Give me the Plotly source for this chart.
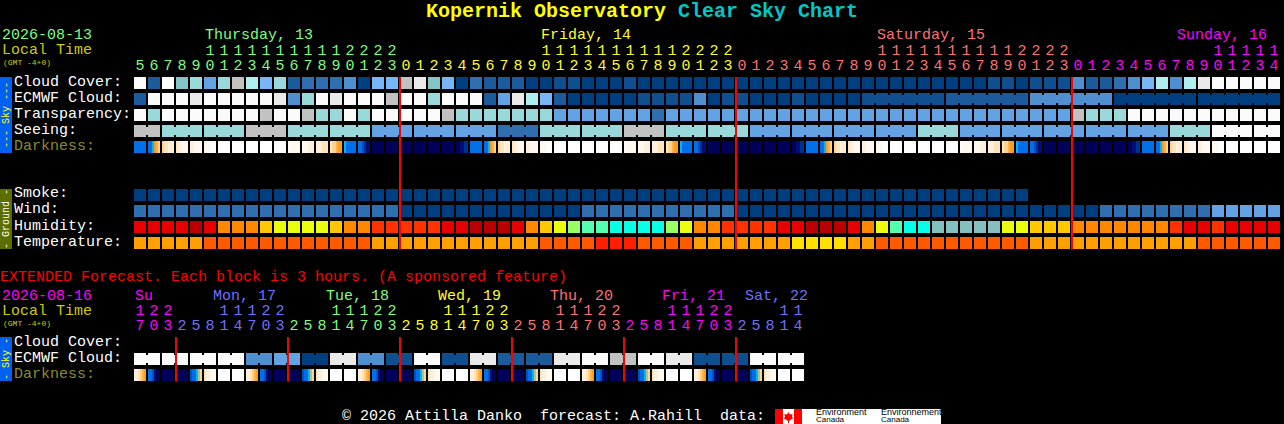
import plotly.graph_objects as go

W, H = 1284, 424
MONO = "Liberation Mono"

# %% colours
cloud_colors = ["#FBFBFB", "#EAEAEA", "#C2C2C2", "#AEEEEE", "#99D9D9", "#85C5C5", "#77B7F7",
                "#63A3E3", "#4F8FCF", "#2F6FAF", "#1B5B9B", "#0F4F8F", "#003F7F"]
humidity_colors = ["#08FFE8", "#55FFB0", "#99FF66", "#EAFF10", "#FFC800", "#FF8800", "#FF3300",
                   "#E80000", "#B80000", "#85C0C0"]
temp_colors = ["#FFE000", "#FFA000", "#FF5A00", "#FF2000"]
dark_colors = ["#FFFFFF", "#FFF9F0", "#FFF0DC", "#FFE4BC", "#FFD38F", "#FFB040", "#F5A020",
               "#10B0F0", "#0070E8", "#0050C8", "#003090", "#000F70", "#00005A", "#9CC8A0"]
GREEN, YEL, SALMON, MAG, PERI = "#7CFF7C", "#FFFF20", "#FF7070", "#FF00FF", "#7070FF"

# %% main forecast, one block per hour: Thu 5h .. Sun 14h
main_days = ["Thursday, 13", "Friday, 14", "Saturday, 15", "Sunday, 16"]
main_day_colors = [GREEN, YEL, SALMON, MAG]
main_day_blocks = [19, 24, 24, 15]
main_tens = ("     11111111112222" "          11111111112222"
             "          11111111112222" "          11111")
main_ones = ("5678901234567890123" "012345678901234567890123"
             "012345678901234567890123" "012345678901234")
main_midnights = [19, 43, 67]

cloud_cover = [0, 10, 0, 5, 4, 7, 4, 2, 3, 6, 4, 10, 9, 9, 9, 8, 12, 6, 6,
               2, 1, 5, 6, 12, 9, 10, 10, 10, 12, 12, 11, 11, 12, 12, 12, 11, 12, 12, 12, 12, 12, 12, 12,
               12, 12, 12, 12, 12, 12, 12, 12, 12, 12, 12, 12, 12, 12, 12, 12, 12, 12, 11, 11, 12, 11, 11, 11,
               8, 10, 10, 9, 8, 6, 3, 8, 3, 1, 0, 0, 0, 0, 0]
ecmwf_cloud = [10, 0, 0, 0, 1, 0, 0, 0, 0, 0, 1, 8, 4, 0, 1, 0, 0, 0, 2,
               0, 0, 4, 0, 0, 0, 10, 7, 1, 3, 6, 10, 12, 12, 12, 12, 12, 11, 11, 11, 11, 8, 12, 11,
               11, 12, 12, 12, 11, 12, 12, 12, 12, 11, 11, 11, 11, 11, 11, 10, 10, 10, 10, 10, 10, 8, 8, 8,
               8, 8, 8, 12, 12, 12, 12, 12, 12, 12, 12, 12, 12, 12, 12]
ecmwf_runs = [52, 6, 6, 6, 6, 6]  # single blocks first, then the joined ones
transparency = [0, 4, 0, 0, 0, 0, 0, 0, 0, 2, 0, 0, 2, 4, 4, 0, 4, 0, 0,
                0, 0, 0, 2, 4, 4, 4, 4, 4, 4, 4, 7, 7, 7, 7, 7, 7, 7, 9, 7, 7, 7, 7, 7,
                7, 7, 7, 7, 7, 7, 7, 7, 7, 7, 7, 7, 7, 7, 7, 7, 7, 7, 7, 7, 7, 7, 7, 7,
                2, 4, 4, 4, 0, 0, 0, 0, 0, 0, 0, 0, 0, 0, 0]
seeing = [2, 2, 4, 4, 4, 4, 4, 4, 2, 2, 2, 4, 4, 4, 4, 4, 4, 7, 7,
          7, 7, 7, 7, 7, 7, 7, 9, 9, 9, 4, 4, 4, 4, 4, 4, 2, 2, 2, 4, 4, 4, 4, 4,
          4, 7, 7, 7, 7, 7, 7, 7, 7, 7, 7, 7, 7, 4, 4, 4, 7, 7, 7, 7, 7, 7, 7, 7,
          7, 7, 7, 7, 7, 7, 7, 4, 4, 4, 0, 0, 0, 0, 0]
seeing_runs = [2, 3, 3, 3, 3, 3, 3, 3, 3, 3, 3, 3, 3, 3, 3, 3, 3, 3, 3, 3, 3, 3, 3, 3, 3, 3, 3, 2]

# darkness blocks are cut in six strips, left to right
N = [12, 12, 12, 12, 12, 12]
D = [0, 0, 0, 0, 0, 0]
S = [8, 8, 8, 8, 8, 8]
pre_dawn = [12, 12, 11, 11, 10, 10]
dawn = [8, 8, 7, 6, 5, 4]
dawn2 = [4, 3, 3, 2, 2, 2]
morn1 = [3, 2, 2, 1, 1, 1]
morn2 = [2, 2, 1, 1, 1, 1]
morn3 = [1, 1, 1, 0, 0, 0]
aft1 = [0, 1, 1, 1, 1, 1]
aft2 = [1, 1, 1, 2, 2, 2]
aft3 = [2, 2, 2, 3, 3, 3]
dusk = [3, 4, 4, 5, 6, 6]
dusk2 = [7, 8, 8, 8, 8, 8]
post_dusk = [8, 8, 9, 10, 11, 11]
darkness = [S, dawn, dawn2, morn1, morn2, morn3, D, D, D, D, D, aft1, aft2, aft3, dusk, dusk2, post_dusk, N, N,
            N, N, N, N, pre_dawn, S, dawn, dawn2, morn1, morn2, morn3, D, D, D, D, D, aft1, aft2, aft3, dusk, dusk2, post_dusk, N, N,
            N, N, N, N, pre_dawn, S, dawn, dawn2, morn1, morn2, morn3, D, D, D, D, D, aft1, aft2, aft3, dusk, dusk2, post_dusk, N, N,
            N, N, N, N, pre_dawn, S, dawn, dawn2, morn1, morn2, morn3, D, D, D, D]

smoke = [12, 12, 12, 12, 12, 12, 12, 12, 12, 12, 12, 12, 12, 12, 12, 12, 12, 12, 12,
         12, 12, 12, 12, 12, 12, 12, 12, 12, 12, 12, 12, 12, 12, 12, 12, 12, 12, 12, 12, 12, 12, 12, 12,
         12, 12, 12, 12, 12, 12, 12, 12, 12, 12, 12, 12, 12, 12, 12, 12, 12, 12, 12, 12, 12]
wind = [9, 9, 9, 9, 9, 9, 9, 9, 9, 9, 9, 9, 9, 9, 9, 9, 9, 9, 9,
        12, 12, 12, 12, 12, 12, 12, 12, 12, 12, 12, 12, 12, 9, 9, 9, 9, 9, 9, 9, 9, 9, 9, 9,
        12, 12, 12, 12, 12, 12, 12, 12, 12, 12, 12, 12, 12, 12, 12, 12, 12, 12, 12, 12, 12, 12, 12, 12,
        12, 12, 9, 9, 9, 9, 9, 9, 9, 9, 7, 7, 7, 7, 7]
humidity = [7, 7, 7, 7, 8, 7, 5, 5, 5, 4, 3, 3, 3, 3, 4, 5, 5, 6, 6,
            6, 6, 6, 7, 7, 8, 8, 8, 7, 5, 4, 3, 2, 1, 1, 0, 0, 0, 0, 2, 3, 5, 5, 6,
            6, 6, 6, 7, 7, 8, 8, 8, 7, 5, 3, 1, 0, 0, 9, 9, 9, 9, 9, 3, 3, 4, 4, 4,
            5, 5, 5, 5, 5, 5, 5, 6, 7, 7, 6, 7, 7, 7, 7]
temperature = [1, 1, 1, 1, 1, 2, 2, 2, 2, 2, 2, 2, 2, 2, 2, 2, 2, 1, 1,
               1, 1, 1, 1, 1, 1, 1, 1, 1, 1, 2, 2, 2, 2, 3, 3, 3, 2, 2, 2, 2, 1, 1, 1,
               1, 1, 1, 1, 0, 0, 0, 0, 1, 1, 2, 2, 2, 2, 2, 2, 2, 2, 2, 2, 2, 1, 1, 1,
               1, 1, 1, 1, 1, 1, 1, 1, 1, 2, 2, 2, 2, 2, 2]

# %% extended forecast, one block per 3 hours
ext_days = ["Su", "Mon, 17", "Tue, 18", "Wed, 19", "Thu, 20", "Fri, 21", "Sat, 22"]
ext_day_colors = [MAG, PERI, GREEN, YEL, SALMON, MAG, PERI]
ext_day_blocks = [3, 8, 8, 8, 8, 8, 5]
ext_tens = "122" "   11122" "   11122" "   11122" "   11122" "   11122" "   11"
ext_ones = "703" "25814703" "25814703" "25814703" "25814703" "25814703" "25814"
ext_midnights = [3, 11, 19, 27, 35, 43]
ext_ecmwf = [0, 0, 0, 0, 0, 0, 0, 0, 8, 8, 7, 7, 12, 12, 1, 1, 8, 8, 11, 11, 0, 0, 11, 11,
             1, 1, 10, 10, 10, 10, 1, 1, 0, 0, 2, 2, 0, 0, 1, 1, 11, 11, 11, 11, 0, 0, 0, 0]
ext_runs = [2, 2, 2, 2, 2, 2, 2, 2, 2, 2, 2, 2, 2, 2, 2, 2, 2, 2, 2, 2, 2, 2, 2, 2]
e3 = [2, 2, 3, 4, 5, 6]
d3 = [8, 8, 9, 11, 12, 12]
m3 = [9, 8, 8, 7, 13, 4]
c3 = [3, 2, 2, 1, 1, 1]
ext_darkness = [e3, d3, N, N, m3, c3, D, D, e3, d3, N, N, m3, c3, D, D, e3, d3, N, N, m3, c3, D, D,
                e3, d3, N, N, m3, c3, D, D, e3, d3, N, N, m3, c3, D, D, e3, d3, N, N, m3, c3, D, D]

# %% layout helpers, block i sits at 140 + 14 * i pixels
PITCH = 14
x_range = [-140 / PITCH, (W - 140) / PITCH]


def px(x):
    return x / W


def py(y):
    return 1 - y / H


def stepped(colors):
    n = len(colors)
    scale = []
    for k, c in enumerate(colors):
        scale += [[k / n, c], [(k + 1) / n, c]]
    return scale


fig = go.Figure()


def block_row(row, values, colors, yaxis):
    fig.add_trace(go.Heatmap(
        x=list(range(len(values))), y=[row], z=[values],
        colorscale=stepped(colors), zmin=-0.5, zmax=len(colors) - 0.5,
        xgap=2, ygap=4, showscale=False, hoverinfo="skip", yaxis=yaxis,
    ))


def joined(row, values, runs, colors, yaxis):
    # the narrow bridges between blocks of the same forecast period
    start = 0
    for run in runs:
        if 1 < run <= 6:
            fig.add_trace(go.Scatter(
                x=[start, start + run - 1], y=[row, row], mode="lines",
                line=dict(color=colors[values[start]], width=8),
                hoverinfo="skip", showlegend=False, yaxis=yaxis,
            ))
        start += run


def darkness_row(row, strips, yaxis):
    edges, z = [], []
    for i, block in enumerate(strips):
        for k, v in enumerate(block):
            edges.append(i + (-6 + 2 * k) / PITCH)
            z.append(v)
        edges.append(i + 6 / PITCH)
        z.append(None)
    edges.append(len(strips) - 1 + 8 / PITCH)
    fig.add_trace(go.Heatmap(
        x=edges, y=[row], z=[z],
        colorscale=stepped(dark_colors), zmin=-0.5, zmax=len(dark_colors) - 0.5,
        ygap=4, showscale=False, hoverinfo="skip", yaxis=yaxis,
    ))


def digits(tens, ones, day_colors, day_blocks, yaxis):
    colors = []
    for c, n in zip(day_colors, day_blocks):
        colors += [c] * n
    for row, chars in ((0, tens), (1, ones)):
        fig.add_trace(go.Scatter(
            x=list(range(len(chars))), y=[row] * len(chars), text=list(chars), mode="text",
            textposition="middle center", textfont=dict(family=MONO, size=15, color=colors),
            hoverinfo="skip", showlegend=False, yaxis=yaxis, cliponaxis=False,
        ))


def label(x, y, text, color="#FFFFFF", size=15, family=MONO, **kw):
    # annotations sit about a pixel up and right of the spot asked for
    fig.add_annotation(xref="paper", yref="paper", x=px(x - 1), y=py(y + 1), text=text, showarrow=False,
                       xanchor=kw.pop("xanchor", "left"), yanchor="middle", borderpad=0,
                       font=dict(family=family, size=size, color=color), **kw)


def rect(x0, y0, x1, y1, color):
    fig.add_shape(type="rect", xref="paper", yref="paper", x0=px(x0), x1=px(x1), y0=py(y0), y1=py(y1),
                  fillcolor=color, line_width=0, layer="below")


# %% sky panel
sky_rows = ["Cloud Cover:", "ECMWF Cloud:", "Transparency:", "Seeing:", "Darkness:"]
block_row(0, cloud_cover, cloud_colors, "y")
block_row(1, ecmwf_cloud, cloud_colors, "y")
block_row(2, transparency, cloud_colors, "y")
block_row(3, seeing, cloud_colors, "y")
joined(1, ecmwf_cloud, ecmwf_runs, cloud_colors, "y")
joined(3, seeing, seeing_runs, cloud_colors, "y")
darkness_row(4, darkness, "y")

# %% ground panel
ground_rows = ["Smoke:", "Wind:", "Humidity:", "Temperature:"]
block_row(0, smoke, cloud_colors, "y2")
block_row(1, wind, cloud_colors, "y2")
block_row(2, humidity, humidity_colors, "y2")
block_row(3, temperature, temp_colors, "y2")

# %% extended panel
ext_rows = ["Cloud Cover:", "ECMWF Cloud:", "Darkness:"]
block_row(1, ext_ecmwf, cloud_colors, "y3")
joined(1, ext_ecmwf, ext_runs, cloud_colors, "y3")
darkness_row(2, ext_darkness, "y3")

digits(main_tens, main_ones, main_day_colors, main_day_blocks, "y4")
digits(ext_tens, ext_ones, ext_day_colors, ext_day_blocks, "y5")


def row_axis(n, top, bottom):
    return dict(range=[n - 0.5, -0.5], domain=[py(bottom), py(top)],
                visible=False, fixedrange=True, anchor="x")


fig.update_layout(
    width=W, height=H, margin=dict(l=0, r=0, t=0, b=0),
    paper_bgcolor="#000000", plot_bgcolor="#000000", showlegend=False,
    xaxis=dict(range=x_range, domain=[0, 1], visible=False, fixedrange=True),
    yaxis=row_axis(len(sky_rows), 75, 155),
    yaxis2=row_axis(len(ground_rows), 187, 251),
    yaxis3=row_axis(len(ext_rows), 335, 383),
    yaxis4=row_axis(2, 43.5, 73.5),
    yaxis5=row_axis(2, 303.5, 333.5),
)

# %% red midnight lines
for m in main_midnights:
    fig.add_shape(type="line", xref="x", yref="paper", x0=m - 6 / PITCH, x1=m - 6 / PITCH,
                  y0=py(77), y1=py(249.5), line=dict(color="#FF0000", width=2))
for m in ext_midnights:
    fig.add_shape(type="line", xref="x", yref="paper", x0=m - 6 / PITCH, x1=m - 6 / PITCH,
                  y0=py(337), y1=py(381.5), line=dict(color="#FF0000", width=2))

# %% panel strips
rect(0, 77, 12, 153, "#0060F0")
rect(0, 189, 12, 249, "#5C6E00")
rect(0, 337, 12, 381, "#0060F0")
label(7, 114, "--- Sky ---", color="#FFFF20", size=10, textangle=-90, xanchor="center")
label(7, 218, "- Ground -", color="#FFFFFF", size=10, textangle=-90, xanchor="center")
label(7, 358, "- Sky -", color="#FFFF20", size=10, textangle=-90, xanchor="center")

# %% texts
fig.add_annotation(xref="paper", yref="paper", x=px(425), y=py(12), xanchor="left", yanchor="middle",
                   showarrow=False, borderpad=0,
                   text='<b><span style="color:#FFFF00">Kopernik Observatory</span> '
                        '<span style="color:#00C8C8">Clear Sky Chart</span></b>',
                   font=dict(family=MONO, size=20))
label(2, 35, "2026-08-13", color=GREEN)
label(2, 50, "Local Time", color="#CCCC00")
label(3, 61, "(GMT -4+0)", color="#CCCC00", size=8)
for name, color, x in zip(main_days, main_day_colors, [205, 540.7, 876.7, 1176.7]):
    label(x, 35, name, color=color)
for y, name in zip([81, 97, 113, 129], sky_rows):
    label(14, y, name)
label(14, 145, sky_rows[4], color="#8B8B2B")
for y, name in zip([193, 209, 225, 241], ground_rows):
    label(14, y, name)
label(0, 276, "EXTENDED Forecast. Each block is 3 hours. (A sponsored feature)", color="#FF0000")
label(2, 295, "2026-08-16", color=MAG)
label(2, 310, "Local Time", color="#CCCC00")
label(3, 322, "(GMT -4+0)", color="#CCCC00", size=8)
for name, color, x in zip(ext_days, ext_day_colors, [135, 213, 325.6, 437.7, 550, 661.7, 745]):
    label(x, 295, name, color=color)
label(14, 341, ext_rows[0])
label(14, 357, ext_rows[1])
label(14, 373, ext_rows[2], color="#8B8B2B")
label(342, 415, "\u00a9 2026 Attilla Danko\u00a0\u00a0forecast: A.Rahill\u00a0\u00a0data:")

# %% environment canada logo
rect(775, 409, 941, 424, "#FFFFFF")
rect(775, 409, 783, 424, "#FF0000")
rect(794, 409, 802, 424, "#FF0000")
leaf = [(788.5, 412), (790, 414.5), (792.5, 414), (792, 417), (793.5, 418), (789, 421),
        (789, 423), (788, 423), (788, 421), (783.5, 418), (785, 417), (784.5, 414), (787, 414.5)]
fig.add_shape(type="path", xref="paper", yref="paper", fillcolor="#FF0000", line_width=0,
              path="M " + " L ".join(f"{px(a)},{py(b)}" for a, b in leaf) + " Z")
label(816, 411, "Environment", color="#000000", size=9, family="Liberation Sans")
label(816, 418.5, "Canada", color="#000000", size=8, family="Liberation Sans")
label(881, 411, "Environnement", color="#000000", size=9, family="Liberation Sans")
label(881, 418.5, "Canada", color="#000000", size=8, family="Liberation Sans")

fig.write_html("out.html", config={"displayModeBar": False},
               post_script="document.body.style.margin='0';document.body.style.background='#000';")
